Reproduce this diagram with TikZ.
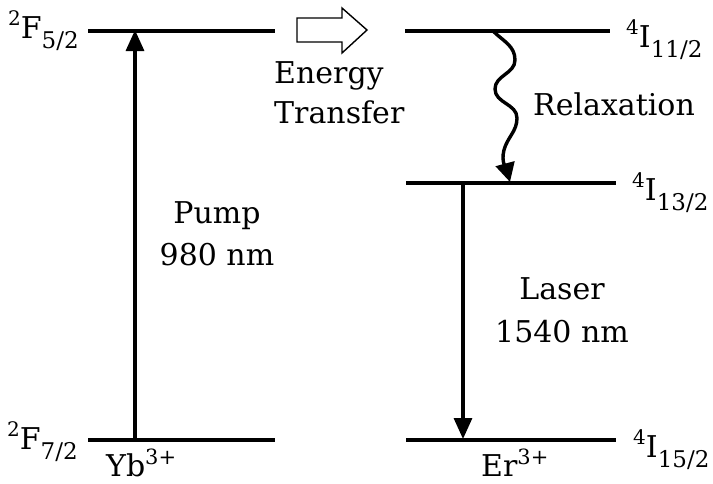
\documentclass[tikz,border=0pt]{standalone}
\usepackage{fontspec}
\setmainfont{DejaVu Serif}
\usetikzlibrary{arrows.meta}
\newcommand{\lvlab}[3]{\raisebox{13pt}{\fontsize{20}{20}\selectfont #1}#2\raisebox{-10pt}{\fontsize{23}{23}\selectfont #3}}
\begin{document}
\begin{tikzpicture}[x=1pt,y=-1pt,
  level/.style={line width=4pt},
  trans/.style={line width=3.2pt,-{Triangle[length=21pt,width=18pt]}},
  lab/.style={inner sep=0pt,anchor=base west,font=\fontsize{30}{30}\selectfont},
  txt/.style={inner sep=0pt,anchor=base,font=\fontsize{30}{30}\selectfont},
  txtl/.style={inner sep=0pt,anchor=base west,font=\fontsize{30}{30}\selectfont}]
\useasboundingbox (0,0) rectangle (713,483);
% level end points
\coordinate (ybUa) at (88,31);  \coordinate (ybUb) at (275,31);
\coordinate (ybLa) at (88,440); \coordinate (ybLb) at (275,440);
\coordinate (erUa) at (405,31); \coordinate (erUb) at (610,31);
\coordinate (erMa) at (406,183);\coordinate (erMb) at (616,183);
\coordinate (erLa) at (406,440);\coordinate (erLb) at (616,440);
\draw[level] (ybUa) -- (ybUb);
\draw[level] (ybLa) -- (ybLb);
\draw[level] (erUa) -- (erUb);
\draw[level] (erMa) -- (erMb);
\draw[level] (erLa) -- (erLb);
% transitions
\coordinate (pumpS) at (135,440); \coordinate (pumpE) at (135,30);
\draw[trans] (pumpS) -- (pumpE);
\coordinate (lasS) at (463,183); \coordinate (lasE) at (463,439);
\draw[trans] (lasS) -- (lasE);
\coordinate (relS) at (493,31); \coordinate (relE) at (510,182);
\draw[line width=3.4pt,-{Triangle[length=19pt,width=19pt]}] (relS)
  to[out=-45,in=90] (515,60) to[out=-90,in=90] (495,89)
  to[out=-90,in=90] (517,118) to[out=-90,in=75] (504,150)
  to[out=-105,in=105] (relE);
% energy transfer hollow arrow
\draw[line width=1.4pt,line join=miter] (297,18) -- (342,18) -- (342,8) -- (367,30) -- (342,53) -- (342,42) -- (297,42) -- cycle;
% labels
\node[lab] (l1) at (8,38) {\lvlab{2}{F}{5/2}};
\node[lab] (l2) at (7,449) {\lvlab{2}{F}{7/2}};
\node[lab] (l3) at (626,47) {\lvlab{4}{I}{11/2}};
\node[lab] (l4) at (632,200) {\lvlab{4}{I}{13/2}};
\node[lab] (l5) at (633,457) {\lvlab{4}{I}{15/2}};
\node[lab] (yb) at (106,476) {Yb\raisebox{12pt}{\fontsize{21}{21}\selectfont 3+}};
\node[lab] (er) at (481,476) {Er\raisebox{12pt}{\fontsize{21}{21}\selectfont 3+}};
\node[txtl] (en) at (274,83) {Energy};
\node[txtl] (tr) at (274,123) {Transfer};
\node[txtl] (rx) at (533,115) {Relaxation};
\node[txt] (pu) at (217,223) {Pump};
\node[txt] (pw) at (217,265) {980 nm};
\node[txt] (la) at (562,299) {Laser};
\node[txt] (lw) at (562,342) {1540 nm};
\end{tikzpicture}
\end{document}
